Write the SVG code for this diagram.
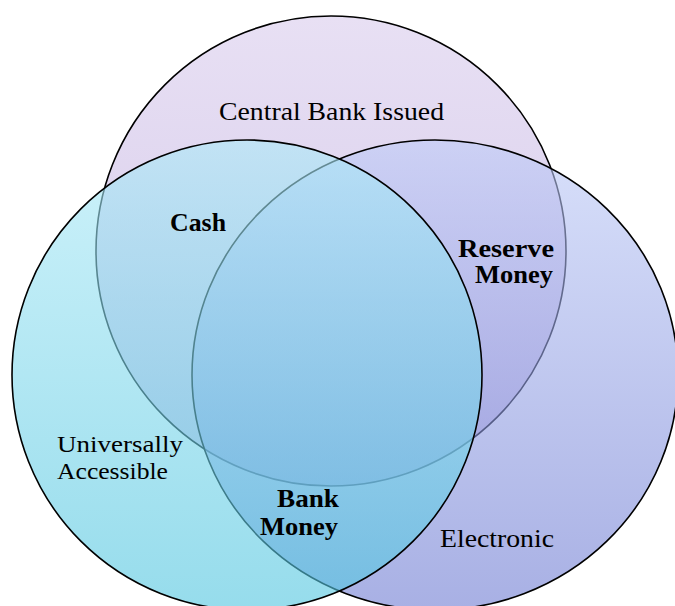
<svg xmlns="http://www.w3.org/2000/svg" width="675" height="606" viewBox="0 0 675 606">
  <defs>
    <linearGradient id="gTop" x1="0" y1="0" x2="0" y2="1">
      <stop offset="0" stop-color="#e8e0f4"/>
      <stop offset="1" stop-color="#d2c6e8"/>
    </linearGradient>
    <linearGradient id="gRight" x1="0" y1="0" x2="0" y2="1">
      <stop offset="0" stop-color="#becbf7"/>
      <stop offset="1" stop-color="#6e7bd2"/>
    </linearGradient>
    <linearGradient id="gLeft" x1="0" y1="0" x2="0" y2="1">
      <stop offset="0" stop-color="#ace9f7"/>
      <stop offset="1" stop-color="#50c5df"/>
    </linearGradient>
  </defs>
  <style>
    .set { stroke: #000; stroke-width: 1.6; }
    .lbl { font-family: "Liberation Serif", "DejaVu Serif", serif; font-size: 26px; fill: #000; }
    .sm { font-size: 24px; }
    .b { font-weight: bold; }
  </style>
  <rect width="675" height="606" fill="#ffffff"/>
  <g id="central-bank-issued">
    <circle class="set" cx="331" cy="251" r="235" fill="url(#gTop)"/>
  </g>
  <g id="electronic">
    <ellipse class="set" cx="435" cy="375" rx="243" ry="235" fill="url(#gRight)" fill-opacity="0.6"/>
  </g>
  <g id="universally-accessible">
    <circle class="set" cx="247" cy="375" r="235" fill="url(#gLeft)" fill-opacity="0.6"/>
  </g>
  <g id="connectors"></g>
  <g id="labels">
    <text class="lbl" x="219" y="120" textLength="225" lengthAdjust="spacingAndGlyphs">Central Bank Issued</text>
    <text class="lbl b" x="170" y="231" textLength="56" lengthAdjust="spacingAndGlyphs">Cash</text>
    <text class="lbl b" x="458" y="257" textLength="96" lengthAdjust="spacingAndGlyphs">Reserve</text>
    <text class="lbl b" x="475" y="283" textLength="78" lengthAdjust="spacingAndGlyphs">Money</text>
    <text class="lbl sm" x="57" y="452" textLength="126" lengthAdjust="spacingAndGlyphs">Universally</text>
    <text class="lbl sm" x="57" y="479" textLength="111" lengthAdjust="spacingAndGlyphs">Accessible</text>
    <text class="lbl b" x="277" y="507" textLength="62" lengthAdjust="spacingAndGlyphs">Bank</text>
    <text class="lbl b" x="260" y="535" textLength="78" lengthAdjust="spacingAndGlyphs">Money</text>
    <text class="lbl" x="440" y="547" textLength="114" lengthAdjust="spacingAndGlyphs">Electronic</text>
  </g>
</svg>
